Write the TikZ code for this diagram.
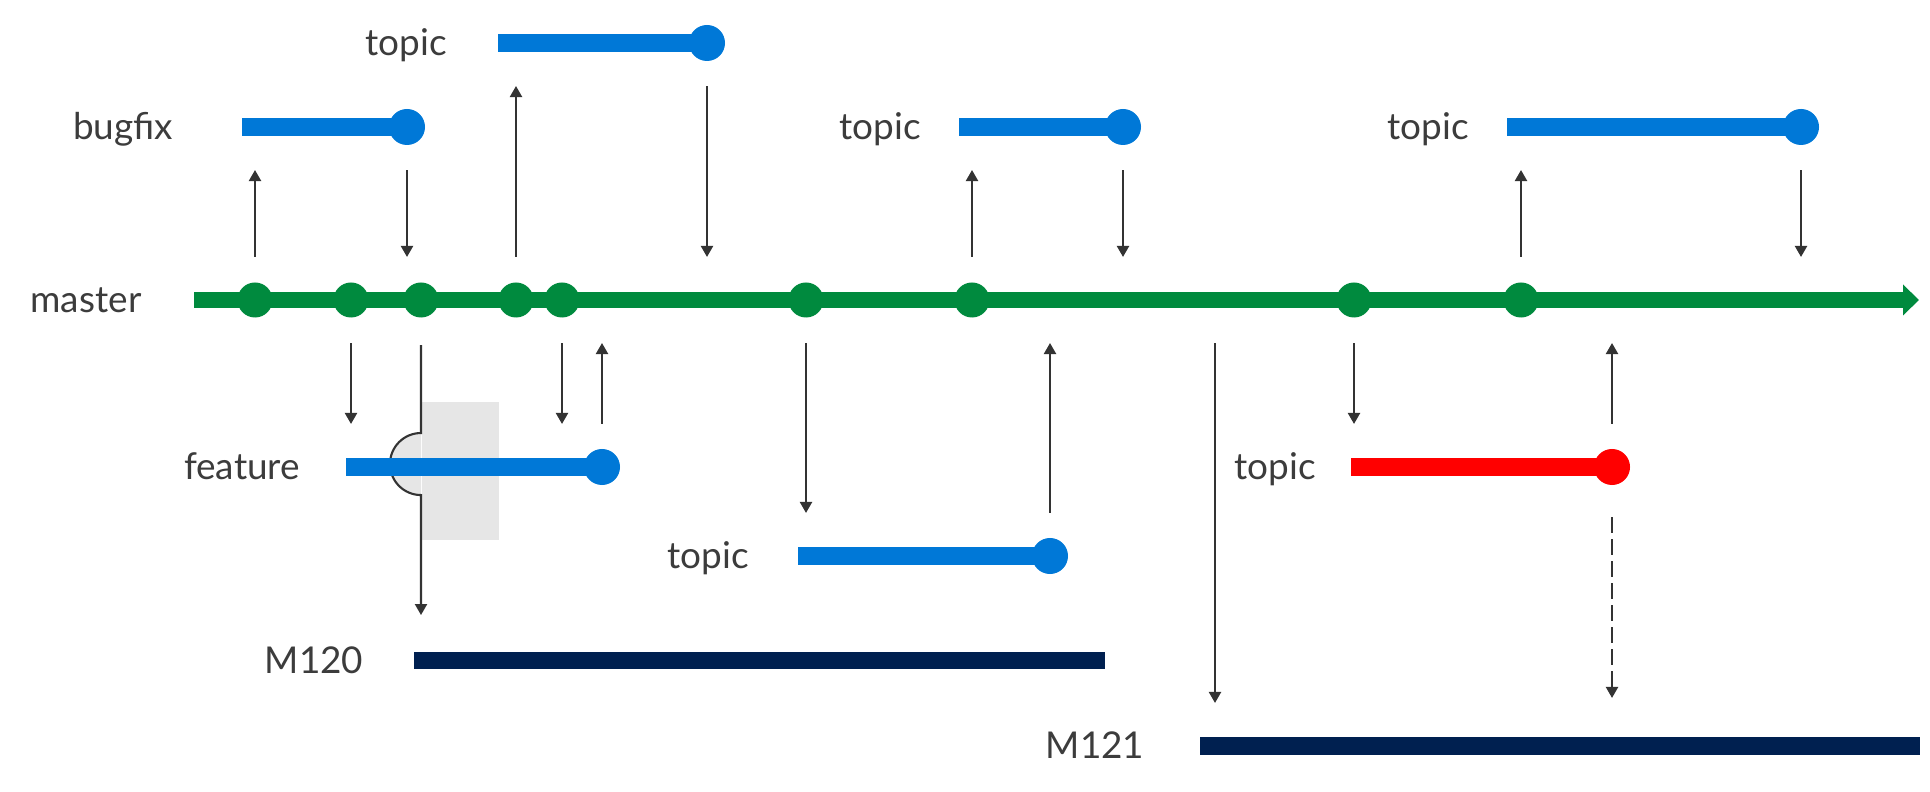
\documentclass[tikz,border=0pt]{standalone}
\usepackage{fontspec}
\setmainfont{Lato}
\usetikzlibrary{arrows.meta}
\definecolor{gitgreen}{HTML}{008A3E}
\definecolor{gitblue}{HTML}{0078D7}
\definecolor{gitred}{HTML}{FF0000}
\definecolor{gitnavy}{HTML}{002050}
\definecolor{linkgray}{HTML}{333333}
\definecolor{textgray}{HTML}{3C3C3C}
\definecolor{boxgray}{HTML}{E6E6E6}

\begin{document}
\begin{tikzpicture}[x=0.01cm,y=0.01cm,
        lbl/.style={anchor=mid,yshift=-0.04cm,text=textgray,font=\fontsize{10.5}{12}\selectfont},
        commit/.style={circle,fill=gitgreen,inner sep=0pt,minimum size=0.35cm},
        tip/.style={circle,fill=gitblue,inner sep=0pt,minimum size=0.36cm},
        bar/.style={line width=0.18cm,gitblue},
        release/.style={line width=0.17cm,gitnavy},
        hop/.style={line width=0.6pt,linkgray,-{Triangle[length=0.11cm,width=0.12cm]}},
        link/.style={hop,shorten <=0.43cm,shorten >=0.43cm}]
        \useasboundingbox (0,0) rectangle (1930,-792);
        % master line and its commits
        \draw[line width=0.16cm,gitgreen,-{Triangle[length=0.16cm,width=0.30cm]}] (194,-300) coordinate (m-s) -- (1919,-300);
        \node[commit] (c1) at (255,-300) {};
        \node[commit] (c2) at (351,-300) {};
        \node[commit] (c3) at (421,-300) {};
        \node[commit] (c4) at (516,-300) {};
        \node[commit] (c5) at (562,-300) {};
        \node[commit] (c6) at (806,-300) {};
        \node[commit] (c7) at (972,-300) {};
        \node[commit] (c8) at (1354,-300) {};
        \node[commit] (c9) at (1521,-300) {};
        \coordinate (m121-fork) at (1215,-300);
        \node[lbl] (lmaster) at (86,-300) {master};
        % branches above master
        \draw[bar] (242,-127) coordinate (bf-s) -- (407,-127) node[tip] (bf-e) {};
        \node[lbl] (lbugfix) at (123,-127) {bugfix};
        \draw[bar] (498,-43) coordinate (t1-s) -- (707,-43) node[tip] (t1-e) {};
        \node[lbl] (ltopic1) at (406,-43) {topic};
        \draw[bar] (959,-127) coordinate (t2-s) -- (1123,-127) node[tip] (t2-e) {};
        \node[lbl] (ltopic2) at (880,-127) {topic};
        \draw[bar] (1507,-127) coordinate (t3-s) -- (1801,-127) node[tip] (t3-e) {};
        \node[lbl] (ltopic3) at (1428,-127) {topic};
        % shaded part of feature and the hop over it
        \fill[boxgray] (422,-402) rectangle (499,-540);
        \fill[boxgray] (421,-433) arc(90:270:0.31cm) -- cycle;
        \draw[hop] ([yshift=-0.45cm]c3.center) -- ++(0,-88) arc(90:270:0.31cm) -- ++(0,-120);
        % branches below master
        \draw[bar] (346,-467) coordinate (ft-s) -- (602,-467) node[tip] (ft-e) {};
        \node[lbl] (lfeature) at (242,-467) {feature};
        \draw[bar] (798,-556) coordinate (t4-s) -- (1050,-556) node[tip] (t4-e) {};
        \node[lbl] (ltopic4) at (708,-556) {topic};
        \draw[bar,gitred] (1351,-467) coordinate (t5-s) -- (1612,-467) node[tip,fill=gitred] (t5-e) {};
        \node[lbl] (ltopic5) at (1275,-467) {topic};
        \draw[release] (414,-661) coordinate (m120-s) -- (1105,-661);
        \node[lbl] (lm120) at (314,-661) {M120};
        \draw[release] (1200,-746) coordinate (m121-s) -- (1920,-746);
        \node[lbl] (lm121) at (1095,-746) {M121};
        % forks and merges
        \draw[link] (c1.center) -- (c1 |- bf-s);
        \draw[link] (bf-e.center) -- (bf-e |- m-s);
        \draw[link] (c4.center) -- (c4 |- t1-s);
        \draw[link] (t1-e.center) -- (t1-e |- m-s);
        \draw[link] (c7.center) -- (c7 |- t2-s);
        \draw[link] (t2-e.center) -- (t2-e |- m-s);
        \draw[link] (c9.center) -- (c9 |- t3-s);
        \draw[link] (t3-e.center) -- (t3-e |- m-s);
        \draw[link] (c2.center) -- (c2 |- ft-s);
        \draw[link] (c5.center) -- (c5 |- ft-s);
        \draw[link] (ft-e.center) -- (ft-e |- m-s);
        \draw[link] (c6.center) -- (c6 |- t4-s);
        \draw[link] (t4-e.center) -- (t4-e |- m-s);
        \draw[link] (m121-fork) -- (m121-fork |- m121-s);
        \draw[link] (c8.center) -- (c8 |- t5-s);
        \draw[link] (t5-e.center) -- (t5-e |- m-s);
        \draw[link,dash pattern=on 0.16cm off 0.06cm,shorten <=0.5cm,shorten >=0.48cm] (t5-e.center) -- (t5-e |- m121-s);
\end{tikzpicture}
\end{document}
